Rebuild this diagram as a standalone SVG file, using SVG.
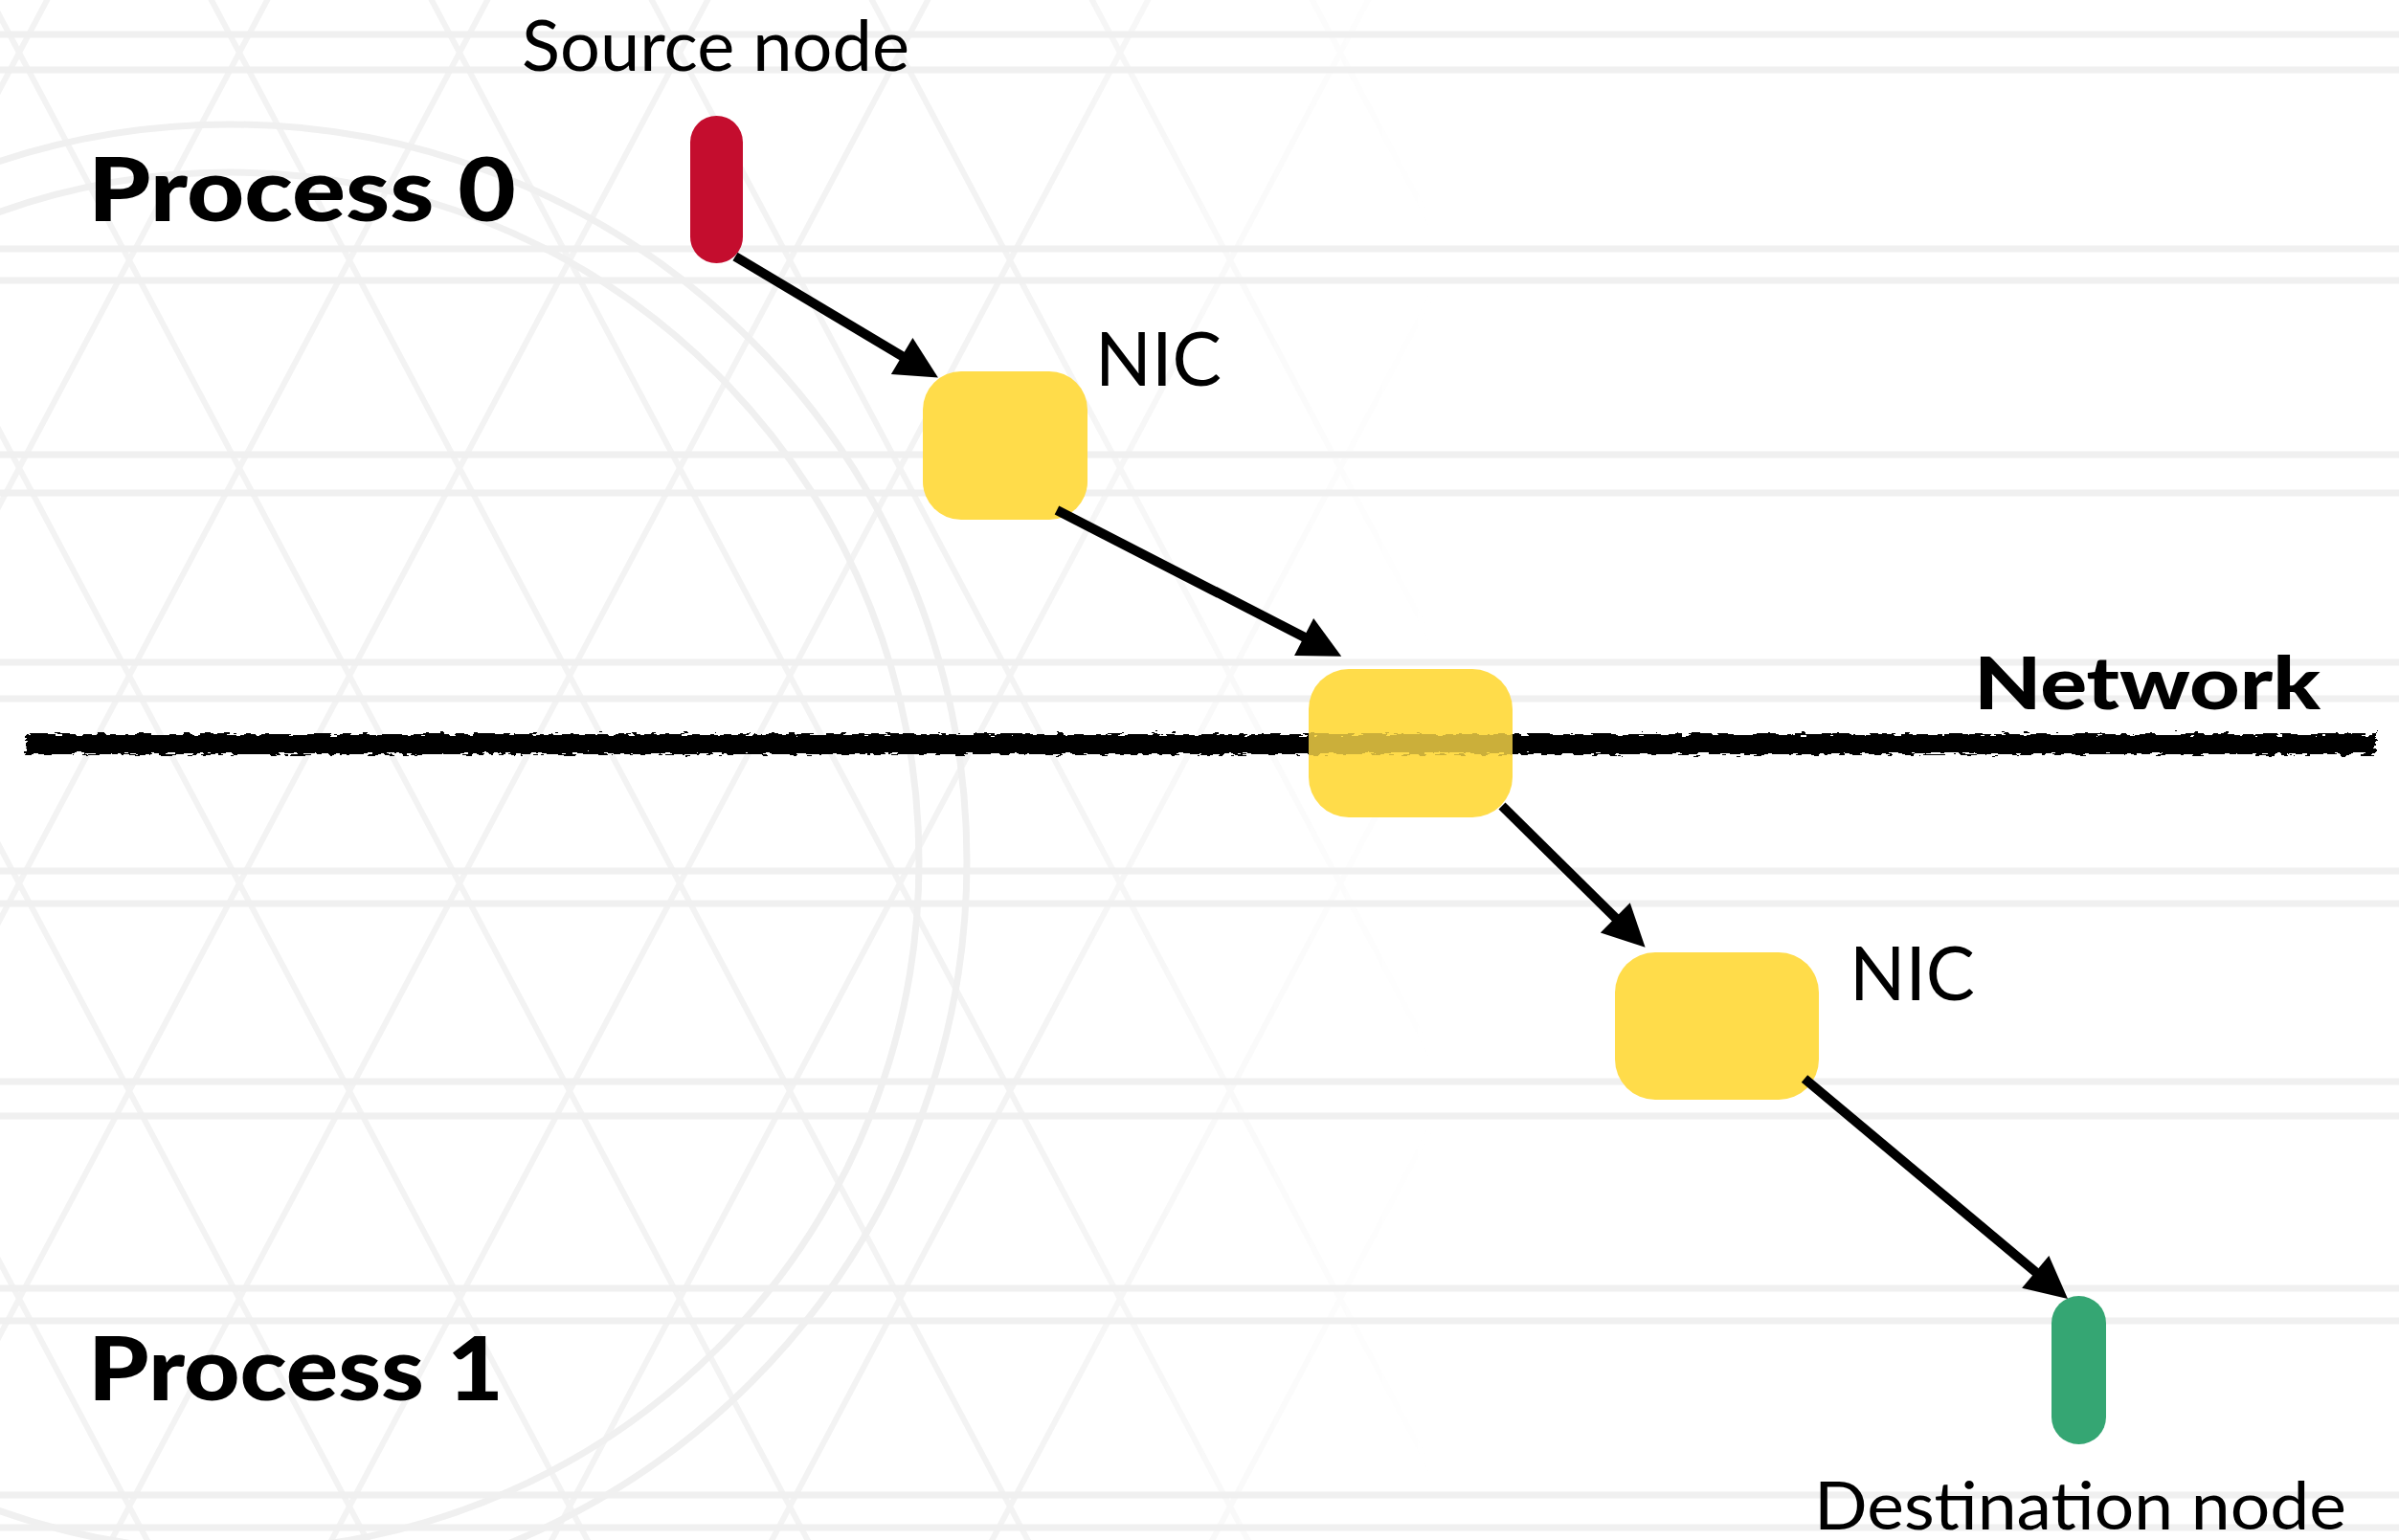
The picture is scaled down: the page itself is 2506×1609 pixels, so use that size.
<svg xmlns="http://www.w3.org/2000/svg" width="2506" height="1609" viewBox="0 0 2506 1609">
  <style>
    .bgh { stroke: #f0f0f0; stroke-width: 7; fill: none; }
    .lbl { font-family: Lato, "Open Sans", "Liberation Sans", sans-serif; fill: #000; }
    .big { font-weight: 900; font-size: 92px; }
    .net { font-weight: 900; font-size: 76px; }
    .small { font-weight: 400; }
    .nic { fill: #FFDC4A; }
    .conn { stroke: #000; stroke-width: 10; fill: none; marker-end: url(#ah); }
  </style>
  <defs>
    <marker id="ah" markerUnits="userSpaceOnUse" markerWidth="46" markerHeight="46" refX="1" refY="22" orient="auto" overflow="visible">
      <path d="M0,0 L44,22 L0,44 Z" fill="#000"/>
    </marker>
    <pattern id="lattice" patternUnits="userSpaceOnUse" x="20" y="55" width="230" height="434">
      <path d="M0,0 L230,434 M230,0 L0,434" stroke="#f3f3f3" stroke-width="6" fill="none"/>
    </pattern>
    <linearGradient id="fade" x1="0" y1="0" x2="1" y2="0">
      <stop offset="0" stop-color="#fff" stop-opacity="1"/>
      <stop offset="0.7" stop-color="#fff" stop-opacity="1"/>
      <stop offset="1" stop-color="#fff" stop-opacity="0"/>
    </linearGradient>
    <mask id="fadeMask">
      <rect x="0" y="0" width="1500" height="1609" fill="url(#fade)"/>
    </mask>
    <filter id="rough" filterUnits="userSpaceOnUse" x="0" y="740" width="2506" height="80">
      <feTurbulence type="fractalNoise" baseFrequency="0.09 0.35" numOctaves="2" seed="7" result="n"/>
      <feDisplacementMap in="SourceGraphic" in2="n" scale="10" xChannelSelector="R" yChannelSelector="G"/>
    </filter>
    <clipPath id="boxClip">
      <rect x="1367" y="699" width="213" height="155" rx="42"/>
    </clipPath>
  </defs>

  <rect x="0" y="0" width="2506" height="1609" fill="#ffffff"/>

  <g id="background">
    <rect x="0" y="0" width="1500" height="1609" fill="url(#lattice)" mask="url(#fadeMask)"/>
    <circle cx="240" cy="900" r="770" class="bgh"/>
    <circle cx="240" cy="900" r="720" class="bgh"/>
    <path class="bgh" d="M0,36 H2506 M0,73 H2506 M0,260 H2506 M0,293 H2506 M0,475 H2506 M0,515 H2506 M0,692 H2506 M0,730 H2506 M0,910 H2506 M0,944 H2506 M0,1130 H2506 M0,1166 H2506 M0,1346 H2506 M0,1380 H2506 M0,1562 H2506 M0,1596 H2506"/>
  </g>

  <g id="network-line">
    <rect x="27" y="767" width="2455" height="21" fill="#000" filter="url(#rough)"/>
  </g>

  <g id="labels">
    <text class="lbl big" x="92" y="231" textLength="447" lengthAdjust="spacingAndGlyphs">Process 0</text>
    <text class="lbl big" x="92" y="1463" textLength="434" lengthAdjust="spacingAndGlyphs">Process 1</text>
    <text class="lbl net" x="2062" y="741" textLength="362" lengthAdjust="spacingAndGlyphs">Network</text>
  </g>

  <g id="source-node">
    <rect x="721" y="121" width="55" height="154" rx="27.5" fill="#C40D2E"/>
    <text class="lbl small" x="545" y="74" font-size="74" textLength="405" lengthAdjust="spacingAndGlyphs">Source node</text>
  </g>

  <g id="nic-0">
    <rect class="nic" x="964" y="388" width="172" height="155" rx="40"/>
    <text class="lbl small" x="1144" y="403" font-size="77" textLength="132" lengthAdjust="spacingAndGlyphs">NIC</text>
  </g>

  <g id="network-node">
    <rect class="nic" x="1367" y="699" width="213" height="155" rx="42"/>
    <g clip-path="url(#boxClip)" opacity="0.2">
      <rect x="27" y="767" width="2455" height="21" fill="#000" filter="url(#rough)"/>
    </g>
  </g>

  <g id="nic-1">
    <rect class="nic" x="1687" y="995" width="213" height="154" rx="42"/>
    <text class="lbl small" x="1932" y="1045" font-size="77" textLength="131" lengthAdjust="spacingAndGlyphs">NIC</text>
  </g>

  <g id="destination-node">
    <rect x="2143" y="1354" width="57" height="155" rx="28.5" fill="#35A673"/>
    <text class="lbl small" x="1895" y="1598" font-size="70" textLength="556" lengthAdjust="spacingAndGlyphs">Destination node</text>
  </g>

  <g id="connectors">
    <line class="conn" x1="768" y1="268" x2="943" y2="372.5"/>
    <line class="conn" x1="1104" y1="533" x2="1363" y2="666"/>
    <line class="conn" x1="1569" y1="842" x2="1688" y2="959.5"/>
    <line class="conn" x1="1885" y1="1127" x2="2127" y2="1329.5"/>
  </g>
</svg>
